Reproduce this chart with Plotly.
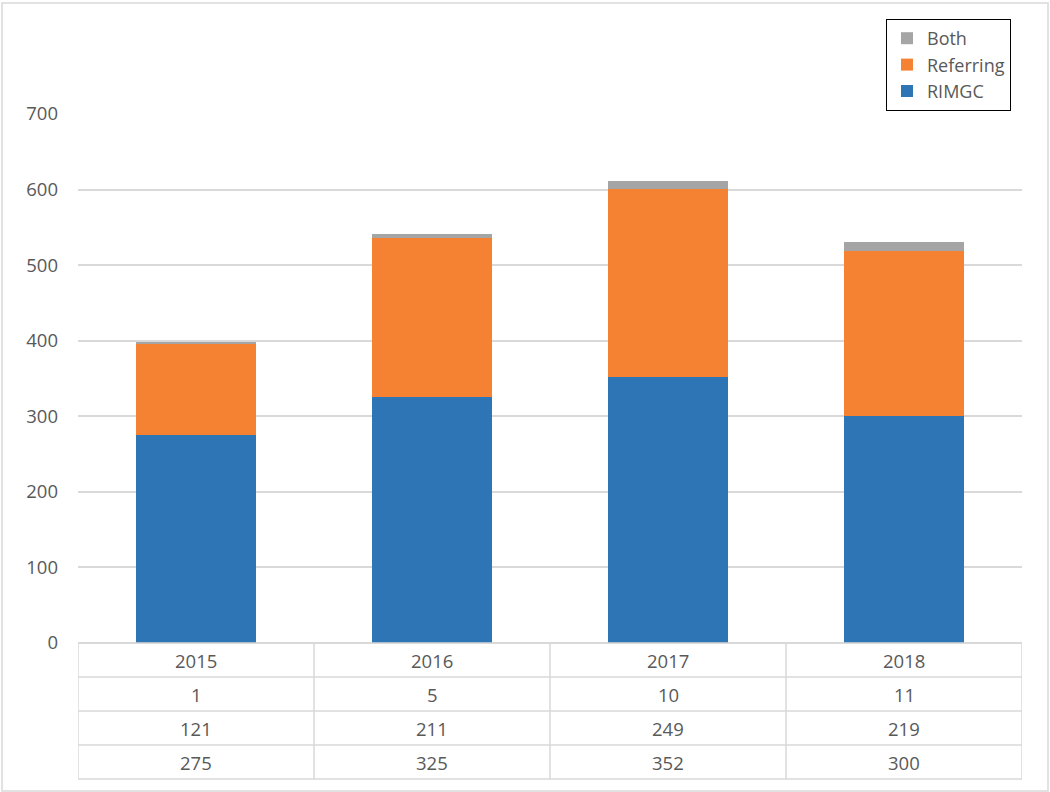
import plotly.graph_objects as go

years = ["2015", "2016", "2017", "2018"]
both = [1, 5, 10, 11]
referring = [121, 211, 249, 219]
rimgc = [275, 325, 352, 300]
series_names = ["RIMGC", "Referring", "Both"]
colors = ["#2E75B6", "#F58233", "#A5A5A5"]
y_ticks = [0, 100, 200, 300, 400, 500, 600, 700]

FONT = "Open Sans"
TXT = "#595959"
LINE = "#D9D9D9"
FS = 18.5

# vertical compensation for the capture (viewport is scaled slightly in y)
H = 802
SY = H / 792.0
T = 113 * SY
B = 14 * SY

fig = go.Figure()
for name, vals, col in zip(series_names, [rimgc, referring, both], colors):
    fig.add_trace(go.Bar(x=years, y=vals, name=name, marker_color=col,
                         marker_line_width=0, width=0.51))

# table geometry (paper coordinates)
t_top = 136 / 665
row_h = 34 / 665
rows = [years, [str(v) for v in both], [str(v) for v in referring], [str(v) for v in rimgc]]

shapes = []
for i in range(5):
    y = t_top - i * row_h
    shapes.append(dict(type="line", xref="x", yref="paper", x0=-0.5, x1=3.5, y0=y, y1=y,
                       line=dict(color=LINE, width=1.5)))
for j in range(5):
    x = j - 0.5
    shapes.append(dict(type="line", xref="x", yref="paper", x0=x, x1=x, y0=t_top, y1=t_top - 4 * row_h,
                       line=dict(color=LINE, width=1.5)))
# outer chart border
shapes.append(dict(type="rect", xref="paper", yref="paper",
                   x0=(2 - 78) / 944, x1=(1048 - 78) / 944,
                   y0=(778 - 790) / 665, y1=(778 - 2) / 665,
                   line=dict(color=LINE, width=1.5), layer="below"))

annotations = []
for r, row in enumerate(rows):
    yc = t_top - (r + 0.5) * row_h
    for c, txt in enumerate(row):
        annotations.append(dict(x=c, y=yc, xref="x", yref="paper", text=txt,
                                showarrow=False, font=dict(family=FONT, size=FS, color=TXT),
                                xanchor="center", yanchor="middle"))

fig.update_layout(
    width=1050, height=H,
    barmode="stack",
    plot_bgcolor="white", paper_bgcolor="white",
    margin=dict(l=78, r=28, t=T, b=B),
    font=dict(family=FONT, size=FS, color=TXT),
    bargap=0.49,
    xaxis=dict(type="category", showticklabels=False, showgrid=False, zeroline=False,
               showline=False, range=[-0.5, 3.5]),
    yaxis=dict(domain=[t_top, 1], range=[0, 700], tickvals=y_ticks,
               gridcolor=LINE, gridwidth=1.5, zeroline=True, zerolinecolor=LINE,
               zerolinewidth=1.5, showline=False, ticklabelstandoff=19,
               tickfont=dict(family=FONT, size=FS, color=TXT)),
    legend=dict(x=(886 - 78) / 944, y=(778 - 18) / 665, xanchor="left", yanchor="top",
                bordercolor="black", borderwidth=1, traceorder="reversed",
                font=dict(family=FONT, size=18, color=TXT), itemwidth=30,
                tracegroupgap=0),
    shapes=shapes,
    annotations=annotations,
)

fig.write_html(
    "out.html",
    config={"displayModeBar": False},
    post_script=(
        "document.documentElement.style.overflow='hidden';"
        "document.body.style.margin='0';"
        "document.body.style.overflow='hidden';"
    ),
)
